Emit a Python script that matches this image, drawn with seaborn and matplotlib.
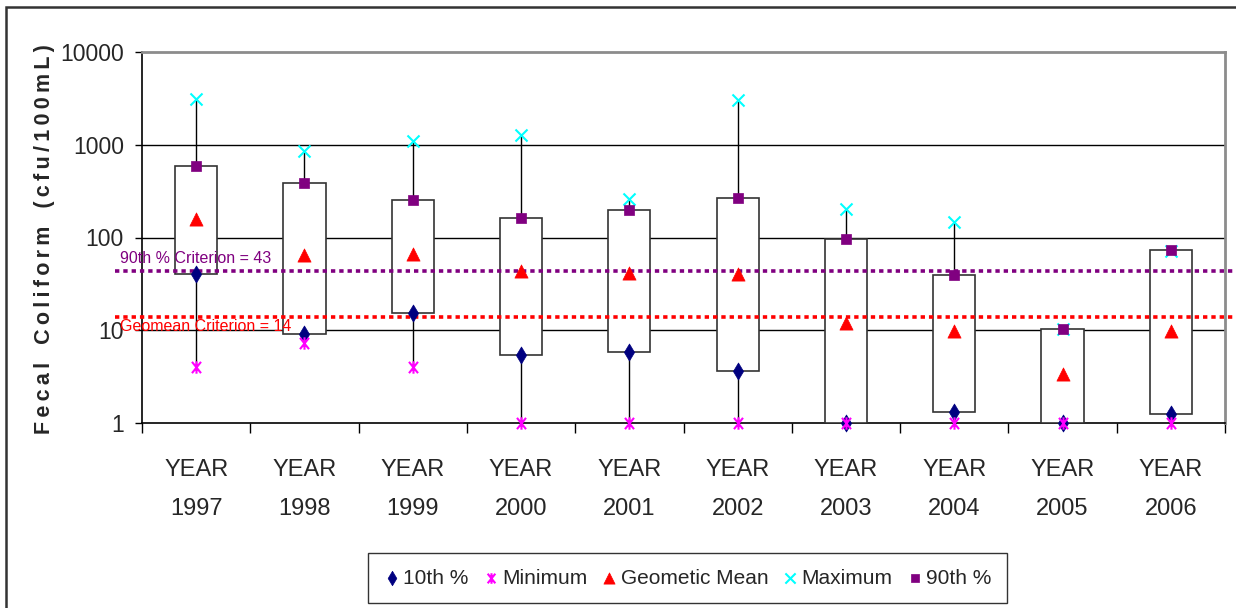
import numpy as np
import pandas as pd
import matplotlib
matplotlib.use("Agg")
import matplotlib.pyplot as plt
import matplotlib.transforms as mtransforms
from matplotlib.path import Path
from matplotlib.patches import Rectangle
from matplotlib import font_manager
import seaborn as sns

# ---- data -------------------------------------------------------------
years = ["1997", "1998", "1999", "2000", "2001", "2002", "2003", "2004", "2005", "2006"]
p10 = [40, 9.1, 15.4, 5.4, 5.9, 3.6, 1.0, 1.3, 1.0, 1.24]
minimum = [4.0, 7.2, 4.0, 1.0, 1.0, 1.0, 1.0, 1.0, 1.0, 1.0]
geomean = [160, 64, 67, 43, 41, 40, 12, 9.8, 3.4, 9.8]
maximum = [3100, 860, 1100, 1270, 260, 3000, 204, 146, 10.2, 72]
p90 = [594, 387, 254, 163, 199, 265, 97, 39, 10.2, 72.5]
criterion_p90 = 43
criterion_geomean = 14

# ---- style ------------------------------------------------------------
sns.set_theme(style="white")
names = {f.name for f in font_manager.fontManager.ttflist}
narrow = "Liberation Sans Narrow" if "Liberation Sans Narrow" in names else "Liberation Sans"
plt.rcParams["font.family"] = [narrow, "DejaVu Sans"]

W, H = 1236, 608
fig = plt.figure(figsize=(W / 100, H / 100), dpi=100)
L, R, B, T = 142, 1225, 423, 52
ax = fig.add_axes([L / W, 1 - B / H, (R - L) / W, (B - T) / H])

x = np.arange(len(years))
df = pd.DataFrame({"x": x, "p10": p10, "min": minimum, "gm": geomean,
                   "max": maximum, "p90": p90})

ax.set_yscale("log")
ax.set_ylim(1, 10000)
ax.set_xlim(-0.5, len(years) - 0.5)

# horizontal grid at each decade
for v in [10, 100, 1000]:
    ax.axhline(v, color="black", lw=1.0, zorder=0)

# whiskers (min to max) and boxes (10th to 90th percentile)
ax.vlines(df["x"], df["min"], df["max"], color="black", lw=1.0, zorder=2)
ax.bar(df["x"], df["p90"] - df["p10"], bottom=df["p10"], width=0.39,
       facecolor="white", edgecolor="#333333", lw=1.2, zorder=3)

# criterion lines extending past the plot frame
blend = mtransforms.blended_transform_factory(ax.transAxes, ax.transData)
x0 = (115 - L) / (R - L)
ax.plot([x0, 1.012], [criterion_p90] * 2, transform=blend, color="#800080",
        lw=2.6, ls=(0, (1.2, 1.1)), clip_on=False, zorder=4)
ax.plot([x0, 1.012], [criterion_geomean] * 2, transform=blend, color="#FF0000",
        lw=2.6, ls=(0, (1.2, 1.1)), clip_on=False, zorder=4)
lx = (120 - L) / (R - L)
ax.annotate(f"90th % Criterion = {criterion_p90}", (lx, criterion_p90), xycoords=blend,
            xytext=(0, 4), textcoords="offset points", ha="left", va="bottom",
            color="#800080", fontsize=11.5, annotation_clip=False, zorder=6)
ax.annotate(f"Geomean Criterion = {criterion_geomean}", (lx, criterion_geomean), xycoords=blend,
            xytext=(0, -2), textcoords="offset points", ha="left", va="top",
            color="#FF0000", fontsize=11.5, annotation_clip=False, zorder=6)

# asterisk marker: an X with a vertical stroke
star = Path([(-0.8, -1), (0.8, 1), (-0.8, 1), (0.8, -1), (0, -1.1), (0, 1.1)],
            [Path.MOVETO, Path.LINETO, Path.MOVETO, Path.LINETO, Path.MOVETO, Path.LINETO])

sns.scatterplot(data=df, x="x", y="p10", marker="d", s=75, color="#000080",
                edgecolor="#000080", linewidth=0.5, label="10th %", ax=ax, zorder=5, clip_on=False)
sns.scatterplot(data=df, x="x", y="min", marker=star, s=80, color="#FF00FF",
                edgecolor="#FF00FF", linewidth=1.5, label="Minimum", ax=ax, zorder=5, clip_on=False)
sns.scatterplot(data=df, x="x", y="gm", marker="^", s=90, color="#FF0000",
                edgecolor="#FF0000", linewidth=0.5, label="Geometic Mean", ax=ax, zorder=5, clip_on=False)
sns.scatterplot(data=df, x="x", y="max", marker="x", s=75, color="#00FFFF",
                linewidth=1.5, label="Maximum", ax=ax, zorder=5, clip_on=False)
sns.scatterplot(data=df, x="x", y="p90", marker="s", s=42, color="#800080",
                edgecolor="#800080", linewidth=0.5, label="90th %", ax=ax, zorder=5, clip_on=False)

# axes, ticks and labels
ax.set_xlabel("")
ax.set_yticks([1, 10, 100, 1000, 10000])
ax.set_yticklabels(["1", "10", "100", "1000", "10000"])
ax.yaxis.set_minor_locator(matplotlib.ticker.NullLocator())
ax.tick_params(axis="y", which="major", direction="out", length=5, width=1,
               color="black", pad=8, labelsize=16.5, left=True)
ax.set_xticks(np.arange(-0.5, len(years)), labels=[""] * (len(years) + 1))
ax.set_xticks(x, labels=[f"YEAR\n{y}" for y in years], minor=True)
ax.tick_params(axis="x", which="major", direction="out", length=7, width=1,
               color="black", bottom=True)
ax.tick_params(axis="x", which="minor", length=0, pad=26, labelsize=17)
for t in ax.get_xticklabels(minor=True):
    t.set_linespacing(2.0)

for s in ["left", "bottom"]:
    ax.spines[s].set_color("black")
    ax.spines[s].set_linewidth(1.2)
for s in ["top", "right"]:
    ax.spines[s].set_color("#8c8c8c")
    ax.spines[s].set_linewidth(2)

ts = "\u2009"
ylab = "   ".join(ts.join(w) for w in ["Fecal", "Coliform", "(cfu/100mL)"])
ax.set_ylabel(ylab, family=["Liberation Sans", "DejaVu Sans"], fontweight="bold", fontsize=15.5)
ax.yaxis.set_label_coords((55 - L) / (R - L), 0.495)

leg = ax.legend(loc="center", bbox_to_anchor=(687.5 / W, 1 - 578 / H),
                bbox_transform=fig.transFigure, ncol=5, frameon=True, fancybox=False,
                fontsize=15, handletextpad=0.15, columnspacing=0.65, borderpad=0.75,
                handlelength=0.8, markerscale=0.85)
leg.get_frame().set_edgecolor("black")
leg.get_frame().set_linewidth(1.0)

# outer chart border
fig.add_artist(Rectangle((5.5 / W, -0.05), 1.1, 1.05 - 6.5 / H, transform=fig.transFigure,
                         fill=False, edgecolor="#333333", lw=1.8))

fig.savefig("out.png", dpi=100)
